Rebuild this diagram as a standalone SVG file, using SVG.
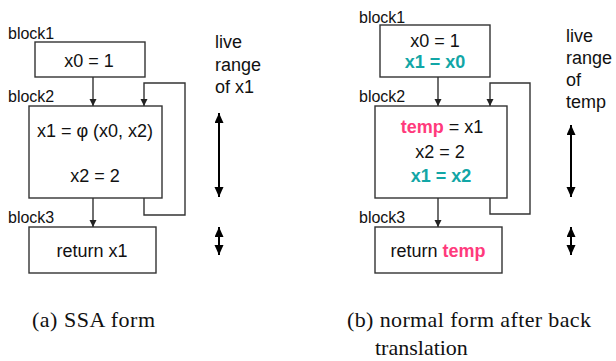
<svg xmlns="http://www.w3.org/2000/svg" width="616" height="361" viewBox="0 0 616 361">
<style>
.box{fill:#fff;stroke:#333;stroke-width:1.4}
.lbl{font-family:"Liberation Sans",Arial,sans-serif;font-size:16px;fill:#111}
.code{font-family:"Liberation Sans",Arial,sans-serif;font-size:18px;fill:#111;text-anchor:middle}
.live{font-family:"Liberation Sans",Arial,sans-serif;font-size:18px;fill:#111}
.teal{fill:#12a6a6;font-weight:bold}
.pink{fill:#ff3a7c;font-weight:bold}
.cap{font-family:"Liberation Serif","Times New Roman",serif;font-size:22px;fill:#111}
.conn{fill:none;stroke:#333;stroke-width:1.4}
.range{fill:none;stroke:#000;stroke-width:2}
</style>
<defs>
<marker id="ah" markerUnits="userSpaceOnUse" markerWidth="8" markerHeight="8" refX="7" refY="3.5" orient="auto">
<path d="M0,0 L7,3.5 L0,7 z" fill="#222"/>
</marker>
<marker id="rh" markerUnits="userSpaceOnUse" markerWidth="11" markerHeight="10" refX="10" refY="4.5" orient="auto-start-reverse">
<path d="M0,0 L10,4.5 L0,9 z" fill="#000"/>
</marker>
</defs>

<g id="a-block1">
<text class="lbl" x="8" y="39">block1</text>
<rect class="box" x="35" y="42" width="110" height="35"/>
<text class="code" x="89" y="67">x0 = 1</text>
</g>
<g id="a-block2">
<text class="lbl" x="8" y="102">block2</text>
<rect class="box" x="29" y="106" width="133" height="92"/>
<text class="code" x="95" y="137">x1 = φ (x0, x2)</text>
<text class="code" x="95" y="182">x2 = 2</text>
</g>
<g id="a-block3">
<text class="lbl" x="8" y="223">block3</text>
<rect class="box" x="29" y="227" width="127" height="46"/>
<text class="code" x="92" y="257">return x1</text>
</g>
<g id="a-live">
<text class="live" x="215" y="48">live</text>
<text class="live" x="215" y="71">range</text>
<text class="live" x="215" y="93">of x1</text>
</g>

<g id="b-block1">
<text class="lbl" x="359" y="23">block1</text>
<rect class="box" x="380" y="25" width="110" height="52"/>
<text class="code" x="435" y="47">x0 = 1</text>
<text class="code teal" x="435" y="68">x1 = x0</text>
</g>
<g id="b-block2">
<text class="lbl" x="359" y="102">block2</text>
<rect class="box" x="375" y="106" width="132" height="92"/>
<text class="code" x="442" y="133"><tspan class="pink">temp</tspan> = x1</text>
<text class="code" x="440" y="158">x2 = 2</text>
<text class="code teal" x="441" y="182">x1 = x2</text>
</g>
<g id="b-block3">
<text class="lbl" x="359" y="223">block3</text>
<rect class="box" x="375" y="227" width="127" height="46"/>
<text class="code" x="438" y="257">return <tspan class="pink">temp</tspan></text>
</g>
<g id="b-live">
<text class="live" x="566" y="42">live</text>
<text class="live" x="566" y="64">range</text>
<text class="live" x="566" y="86">of</text>
<text class="live" x="566" y="108">temp</text>
</g>

<g id="connectors">
<path class="conn" d="M93,77 V106" marker-end="url(#ah)"/>
<path class="conn" d="M144,198 V215 H185 V83 H144 V106" marker-end="url(#ah)"/>
<path class="conn" d="M93,198 V227" marker-end="url(#ah)"/>
<path class="conn" d="M438,77 V106" marker-end="url(#ah)"/>
<path class="conn" d="M490,198 V214 H530 V83 H490 V106" marker-end="url(#ah)"/>
<path class="conn" d="M438,198 V227" marker-end="url(#ah)"/>
<path class="range" d="M219,113 V197" marker-start="url(#rh)" marker-end="url(#rh)"/>
<path class="range" d="M219,227 V255" marker-start="url(#rh)" marker-end="url(#rh)"/>
<path class="range" d="M571,125 V197" marker-start="url(#rh)" marker-end="url(#rh)"/>
<path class="range" d="M571,227 V255" marker-start="url(#rh)" marker-end="url(#rh)"/>
</g>

<g id="captions">
<text class="cap" x="32" y="327" textLength="123" lengthAdjust="spacing">(a) SSA form</text>
<text class="cap" x="347" y="327" textLength="244" lengthAdjust="spacing">(b) normal form after back</text>
<text class="cap" x="375" y="355">translation</text>
</g>
</svg>
